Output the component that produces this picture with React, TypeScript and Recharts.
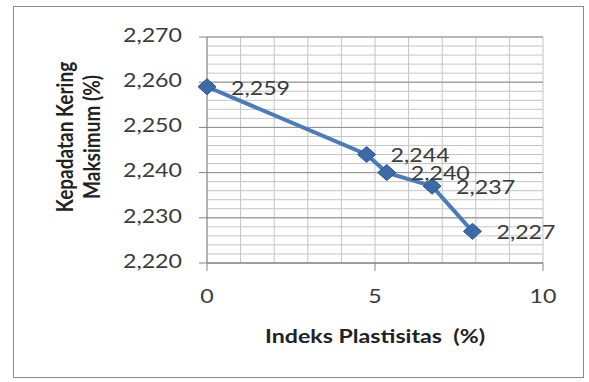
import { LineChart, Line, XAxis, YAxis, CartesianGrid, LabelList } from "recharts";

// Indeks plastisitas (%) vs kepadatan kering maksimum
const plastisitas = [0, 4.75, 5.35, 6.7, 7.9];
const kepadatan = [2.259, 2.244, 2.24, 2.237, 2.227];

const xTicks = [0, 5, 10];
const yTicks = [2.22, 2.23, 2.24, 2.25, 2.26, 2.27];

// minor grid: every 1 on x, every 0.002 on y
const xGrid = Array.from({ length: 11 }, (_, i) => i);
const yGrid = Array.from({ length: 26 }, (_, i) => +(2.22 + i * 0.002).toFixed(3));

const data = plastisitas.map((x, i) => ({ x, y: kepadatan[i] }));

const FONT = "Lato, 'Open Sans', sans-serif";
const TEXT = "#3a3a3a";
const STRETCH = 1.22; // text in this chart is drawn a bit wide
const fmt = (v: number) => v.toFixed(3).replace(".", ",");

const Diamond = (props: any) => {
  const { cx, cy } = props;
  if (cx == null || cy == null) return null;
  return (
    <polygon
      key={`d-${cx}`}
      points={`${cx},${cy - 8} ${cx + 9},${cy} ${cx},${cy + 8} ${cx - 9},${cy}`}
      fill="#3b6aa6"
      stroke="#2c5587"
      strokeWidth={1}
    />
  );
};

const ValueLabel = (props: any) => {
  const { x, y, value } = props;
  return (
    <text
      transform={`translate(${x + 24},${y + 3}) scale(${STRETCH},1)`}
      fontSize={19}
      fontFamily={FONT}
      fill={TEXT}
      dominantBaseline="middle"
    >
      {fmt(value)}
    </text>
  );
};

const XTick = (props: any) => {
  const { x, y, payload } = props;
  return (
    <text
      transform={`translate(${x},${y}) scale(${STRETCH},1)`}
      fontSize={19}
      fontFamily={FONT}
      fill={TEXT}
      textAnchor="middle"
      dominantBaseline="hanging"
    >
      {payload.value}
    </text>
  );
};

const YTick = (props: any) => {
  const { x, y, payload } = props;
  return (
    <text
      transform={`translate(${x},${y}) scale(${STRETCH},1)`}
      fontSize={19}
      fontFamily={FONT}
      fill={TEXT}
      textAnchor="end"
      dominantBaseline="middle"
    >
      {fmt(payload.value)}
    </text>
  );
};

const YTitle = () => (
  <g fontFamily={FONT} fontWeight="bold" fontSize={19} fill="#222" textAnchor="middle">
    <text transform={`translate(67,137) rotate(-90) scale(1,${STRETCH})`} dominantBaseline="middle">
      Kepadatan Kering
    </text>
    <text transform={`translate(94,137) rotate(-90) scale(1,${STRETCH})`} dominantBaseline="middle">
      Maksimum (%)
    </text>
  </g>
);

const XTitle = () => (
  <text
    transform={`translate(375,338) scale(${STRETCH},1)`}
    fontFamily={FONT}
    fontWeight="bold"
    fontSize={19}
    fill="#222"
    textAnchor="middle"
    dominantBaseline="middle"
    xmlSpace="preserve"
  >
    Indeks Plastisitas  (%)
  </text>
);

export default function App() {
  return (
    <div style={{ position: "absolute", left: 0, top: 0, width: 589, height: 382, background: "#fff" }}>
      <div
        style={{
          position: "absolute",
          left: 13,
          top: 6,
          width: 569,
          height: 370,
          border: "1.5px solid #8a8a8a",
        }}
      />
      <LineChart
        width={589}
        height={382}
        data={data}
        margin={{ top: 37, right: 46, left: 0, bottom: 0 }}
        style={{ position: "absolute", left: 0, top: 0 }}
      >
        <XAxis xAxisId="grid" type="number" dataKey="x" domain={[0, 10]} ticks={xGrid} interval={0} allowDataOverflow hide />
        <YAxis
          yAxisId="grid"
          type="number"
          dataKey="y"
          domain={[2.22, 2.27]}
          ticks={yGrid}
          interval={0}
          allowDataOverflow
          hide
        />
        <CartesianGrid xAxisId="grid" yAxisId="grid" stroke="#c4c4c4" strokeWidth={1} />
        <CartesianGrid vertical={false} stroke="#8e8e8e" strokeWidth={1} />
        <XAxis
          type="number"
          dataKey="x"
          domain={[0, 10]}
          ticks={xTicks}
          interval={0}
          height={119}
          stroke="#868686"
          tickSize={8}
          tickMargin={17}
          tick={<XTick />}
          label={{ content: () => <XTitle /> }}
        />
        <YAxis
          type="number"
          domain={[2.22, 2.27]}
          ticks={yTicks}
          interval={0}
          width={207}
          stroke="#868686"
          tickSize={8}
          tickMargin={17}
          tick={<YTick />}
          label={{ content: () => <YTitle /> }}
        />
        <Line
          type="linear"
          dataKey="y"
          stroke="#4a7cbc"
          strokeWidth={4}
          dot={<Diamond />}
          activeDot={false}
          isAnimationActive={false}
        >
          <LabelList dataKey="y" content={<ValueLabel />} />
        </Line>
      </LineChart>
    </div>
  );
}
